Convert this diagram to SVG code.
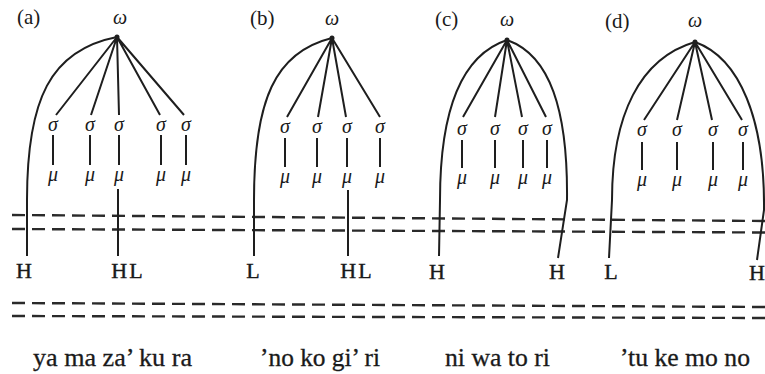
<svg xmlns="http://www.w3.org/2000/svg" width="765" height="374" viewBox="0 0 765 374">
<style>
.t{font-family:"Liberation Serif","Times New Roman",serif;fill:#1a1a1a}
.lab{font-size:21px}
.g{font-size:20px;font-style:italic;text-anchor:middle}
.tone{font-size:22px;text-anchor:middle;stroke:#1a1a1a;stroke-width:0.4}
.word{font-size:25px;stroke:#1a1a1a;stroke-width:0.3}
.ln{stroke:#1e1e1e;stroke-width:2;fill:none}
.dash{stroke:#2a2a2a;stroke-width:2.4;fill:none;stroke-dasharray:13 7}
</style>
<rect width="765" height="374" fill="#fff"/>
<g id="connectors">
  <path class="dash" d="M12,215 L765,221"/>
  <path class="dash" d="M12,229 L765,232.5"/>
  <path class="dash" d="M12,303 L765,307"/>
  <path class="dash" d="M12,316 L765,318"/>
  <path class="ln" d="M117,37 C50,50 27,100 27,200 L27,256"/>
  <path class="ln" d="M117,37 L56,115 M117,37 L91,115 M117,37 L119,115 M117,37 L160,115 M117,37 L184,115"/>
  <path class="ln" d="M53,135 V165 M90,135 V165 M119,135 V165 M161,135 V165 M186,135 V165"/>
  <path class="ln" d="M118,189 V256"/>
  <path class="ln" d="M332,38 C275,52 254,100 254,200 L254,256"/>
  <path class="ln" d="M332,38 L287,117 M332,38 L318,117 M332,38 L346,117 M332,38 L380,117"/>
  <path class="ln" d="M285,138 V167 M317,138 V167 M347,138 V167 M380,138 V167"/>
  <path class="ln" d="M348,190 V256"/>
  <path class="ln" d="M507,40 C462,55 440,110 440,200 L439,256"/>
  <path class="ln" d="M507,40 C550,55 568,110 567,200 L558,258"/>
  <path class="ln" d="M507,40 L463,117 M507,40 L495,117 M507,40 L522,117 M507,40 L546,117"/>
  <path class="ln" d="M462,140 V168 M495,140 V168 M523,140 V168 M547,140 V168"/>
  <path class="ln" d="M695,42 C640,58 612,115 612,200 L609,258"/>
  <path class="ln" d="M695,42 C740,58 765,120 764,210 L757,260"/>
  <path class="ln" d="M695,42 L644,120 M695,42 L677,120 M695,42 L712,120 M695,42 L742,120"/>
  <path class="ln" d="M642,142 V170 M677,142 V170 M713,142 V170 M743,142 V170"/>
  <circle cx="117" cy="37" r="2.5" fill="#1e1e1e"/>
  <circle cx="332" cy="38" r="2.5" fill="#1e1e1e"/>
  <circle cx="507" cy="40" r="2.5" fill="#1e1e1e"/>
  <circle cx="695" cy="42" r="2.5" fill="#1e1e1e"/>
</g>
<g id="panel-a">
  <text class="t lab" x="17" y="24">(a)</text>
  <text class="t g" x="120" y="24">ω</text>
  <text class="t g" x="53" y="131">σ</text><text class="t g" x="90" y="131">σ</text><text class="t g" x="119" y="131">σ</text><text class="t g" x="161" y="131">σ</text><text class="t g" x="186" y="131">σ</text>
  <text class="t g" x="53" y="181">μ</text><text class="t g" x="90" y="181">μ</text><text class="t g" x="119" y="181">μ</text><text class="t g" x="161" y="181">μ</text><text class="t g" x="186" y="181">μ</text>
  <text class="t tone" x="24" y="278">H</text>
  <text class="t tone" x="128" y="278" letter-spacing="2">HL</text>
  <text class="t word" x="33" y="366" textLength="159" lengthAdjust="spacingAndGlyphs">ya ma za’ ku ra</text>
</g>
<g id="panel-b">
  <text class="t lab" x="250" y="25">(b)</text>
  <text class="t g" x="332" y="25">ω</text>
  <text class="t g" x="285" y="133">σ</text><text class="t g" x="317" y="133">σ</text><text class="t g" x="347" y="133">σ</text><text class="t g" x="380" y="133">σ</text>
  <text class="t g" x="285" y="183">μ</text><text class="t g" x="317" y="183">μ</text><text class="t g" x="347" y="183">μ</text><text class="t g" x="380" y="183">μ</text>
  <text class="t tone" x="253" y="278">L</text>
  <text class="t tone" x="357" y="278" letter-spacing="2">HL</text>
  <text class="t word" x="260" y="366" textLength="120" lengthAdjust="spacingAndGlyphs">’no ko gi’ ri</text>
</g>
<g id="panel-c">
  <text class="t lab" x="435" y="26">(c)</text>
  <text class="t g" x="507" y="26">ω</text>
  <text class="t g" x="462" y="135">σ</text><text class="t g" x="495" y="135">σ</text><text class="t g" x="523" y="135">σ</text><text class="t g" x="547" y="135">σ</text>
  <text class="t g" x="462" y="184">μ</text><text class="t g" x="495" y="184">μ</text><text class="t g" x="523" y="184">μ</text><text class="t g" x="547" y="184">μ</text>
  <text class="t tone" x="437" y="279">H</text>
  <text class="t tone" x="557" y="279">H</text>
  <text class="t word" x="445" y="366" textLength="105" lengthAdjust="spacingAndGlyphs">ni wa to ri</text>
</g>
<g id="panel-d">
  <text class="t lab" x="605" y="28">(d)</text>
  <text class="t g" x="695" y="27">ω</text>
  <text class="t g" x="642" y="136">σ</text><text class="t g" x="677" y="136">σ</text><text class="t g" x="713" y="136">σ</text><text class="t g" x="743" y="136">σ</text>
  <text class="t g" x="642" y="186">μ</text><text class="t g" x="677" y="186">μ</text><text class="t g" x="713" y="186">μ</text><text class="t g" x="743" y="186">μ</text>
  <text class="t tone" x="611" y="279">L</text>
  <text class="t tone" x="757" y="280">H</text>
  <text class="t word" x="620" y="366" textLength="130" lengthAdjust="spacingAndGlyphs">’tu ke mo no</text>
</g>
</svg>
